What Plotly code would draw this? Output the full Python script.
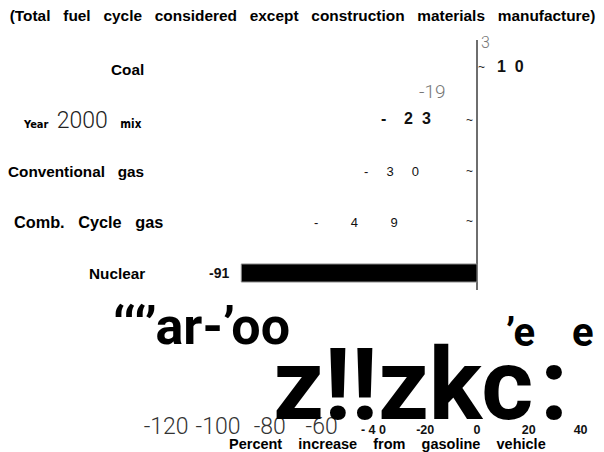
import plotly.graph_objects as go

# ---------------- data ----------------
categories = ["Coal", "Year 2000 mix", "Conventional gas", "Comb. Cycle gas", "Nuclear"]
values = [10, -23, -30, -49, -91]
bar_drawn = [False, False, False, False, True]   # only the Nuclear bar survived in the scanned figure
stray_values = [3, -19]                           # faint grey numbers near the axis
tick_vals = [-120, -100, -80, -60, -40, -20, 0, 20, 40]
tick_labels = ["-120", "-100", "-80", "-60", "- 4 0", "-20", "0", "20", "40"]
chart_title = "(Total fuel cycle considered except construction materials manufacture)"
x_title = "Percent increase from gasoline vehicle"
scan_noise = ["\u2018\u2018\u2018\u2019ar-\u2019oo", "z!!zkc", "\u2019e", ":", "e"]

# ---------------- styling helpers ----------------
NB = "\u00a0"
COND = "DejaVu Sans Condensed, Roboto, Liberation Sans, sans-serif"
THIN = "Roboto, DejaVu Sans Condensed, Liberation Sans, sans-serif"
HEAVY = "Roboto, Liberation Sans, sans-serif"
BOLD = "Liberation Sans, Arial, sans-serif"

OFF = 8  # page offset of the figure inside the browser window
W, H = 604, 452
# plot area in window pixels: x 150..600, y 40..290
PL, PR, PT, PB = 150, 600, 40, 290
def px(p):
    return (p - PL) / (PR - PL)
def py(p):
    return (PB - p) / (PB - PT)

def spaced(words, n):
    return (NB * n).join(words.split(" "))

def spread(chars, gaps):
    out = chars[0]
    for c, g in zip(chars[1:], gaps):
        out += NB * g + c
    return out

big = "font-family:%s;font-size:23px;font-weight:300;fill:#333" % THIN
ticktext = []
for v, t in zip(tick_vals, tick_labels):
    t = t.replace(" ", NB)
    if v <= -60:
        ticktext.append('<span style="%s">%s</span>' % (big, t))
    else:
        ticktext.append(t)

fig = go.Figure()
fig.add_trace(go.Bar(
    x=values, y=categories, orientation="h", width=0.355,
    marker=dict(color=["black" if d else "rgba(0,0,0,0)" for d in bar_drawn],
                line=dict(color=["#8a8a8a" if d else "rgba(0,0,0,0)" for d in bar_drawn], width=1)),
    hoverinfo="skip", showlegend=False,
))

ann = []
# category labels
cat_right_px = [146, 144, 146, 165, 147]
for c, r in zip(categories, cat_right_px):
    if c == "Year 2000 mix":
        w = c.split(" ")
        txt = ('<span style="font-family:%s;font-size:11px;font-weight:bold">%s</span>' % (COND, w[0]) + NB * 2 +
               '<span style="font-family:%s;font-size:23px;font-weight:300;fill:#222">%s</span>' % (THIN, w[1]) + NB * 3 +
               '<span style="font-family:%s;font-size:11.5px;font-weight:bold">%s</span>' % (COND, w[2]))
        fs = 15
    elif c == "Comb. Cycle gas":
        txt = "<b>" + spaced(c, 3) + "</b>"
        fs = 16.3
    else:
        txt = "<b>" + spaced(c, 3) + "</b>"
        fs = 15.3
    ann.append(dict(x=px(r), xref="paper", y=c, yref="y", text=txt, showarrow=False,
                    xanchor="right", yanchor="middle", font=dict(family=BOLD, size=fs, color="black")))

# value labels
label_gaps = [[2], [4, 2], [5, 5], [9, 9], [0, 0]]
label_font = [(16, True), (16, True), (13, False), (13, False), (14, True)]
label_shift = [8, -11, -8, 6, -10]
label_dy = [3, 2, 0, 0, 0]
for c, v, g, (fs, b), sh, dy in zip(categories, values, label_gaps, label_font, label_shift, label_dy):
    s = str(v)
    if c == "Nuclear":
        txt, xa = s, "right"
    else:
        txt, xa = spread(list(s), g), "center"
    if b:
        txt = "<b>" + txt + "</b>"
    ann.append(dict(x=v, xref="x", y=c, yref="y", text=txt, showarrow=False, xanchor=xa,
                    yanchor="middle", xshift=sh, yshift=dy,
                    font=dict(family=BOLD, size=fs, color="#111")))

# little tilde remnants at the axis
for c, v, d in zip(categories, values, bar_drawn):
    if d:
        continue
    ann.append(dict(x=0, xref="x", y=c, yref="y", text="~", showarrow=False,
                    xanchor="left" if v > 0 else "right", xshift=-1 if v > 0 else -2,
                    yshift=3 if v > 0 else 1,
                    font=dict(family=BOLD, size=12, color="#222")))

# stray grey numbers
ann.append(dict(x=stray_values[0], xref="x", y=4.55, yref="y", text=str(stray_values[0]), showarrow=False,
                xanchor="center", yanchor="middle", xshift=1,
                font=dict(family=THIN, size=16, color="#777", weight=300)))
ann.append(dict(x=stray_values[1], xref="x", y=3.57, yref="y", text=str(stray_values[1]), showarrow=False,
                xanchor="center", yanchor="middle", xshift=5,
                font=dict(family=THIN, size=19, color="#777", weight=300)))

# scanned noise glyphs below the plot
noise_specs = [  # (left px, middle px, size)
    (111, 326, 52),
    (271, 384, 100),
    (504, 332, 40),
    (538, 384, 100),
    (570, 332, 40),
]
for t, (lx, my, fs) in zip(scan_noise, noise_specs):
    ann.append(dict(x=px(lx), xref="paper", y=py(my), yref="paper", text="<b>" + t + "</b>",
                    showarrow=False, xanchor="left", yanchor="middle",
                    font=dict(family=HEAVY, size=fs, color="black")))

# x-axis title
ann.append(dict(x=px(387), xref="paper", y=py(444.5), yref="paper", text="<b>" + spaced(x_title, 4) + "</b>",
                showarrow=False, xanchor="center", yanchor="middle",
                font=dict(family=BOLD, size=14.5, color="black")))

fig.update_layout(
    width=W, height=H,
    margin=dict(l=PL - OFF, r=W - (PR - OFF), t=PT - OFF, b=H - (PB - OFF), autoexpand=False),
    paper_bgcolor="white", plot_bgcolor="white",
    font=dict(family=BOLD, color="black"),
    title=dict(text="<b>" + spaced(chart_title, 3) + "</b>", x=(302.5 - OFF) / W, xanchor="center",
               xref="container", y=1 - (16 - OFF) / H, yanchor="middle",
               font=dict(family=BOLD, size=15.4, color="black")),
    annotations=ann,
    showlegend=False,
)
zero_px = 477
scale = 2.59
fig.update_xaxes(
    range=[(PL - zero_px) / scale, (PR - zero_px) / scale],
    tickmode="array", tickvals=tick_vals, ticktext=ticktext,
    tickfont=dict(family=BOLD, size=12.5, color="#111", weight="bold"),
    ticks="", showgrid=False, showline=False,
    zeroline=True, zerolinecolor="#6e6e6e", zerolinewidth=1.5,
    ticklabelstandoff=130,
    automargin=False,
)
fig.update_yaxes(
    type="category", categoryorder="array", categoryarray=categories[::-1],
    range=[-0.335, 4.591], showticklabels=False, ticks="", showgrid=False,
    showline=False, zeroline=False, automargin=False,
)

fig.write_html("out.html")
